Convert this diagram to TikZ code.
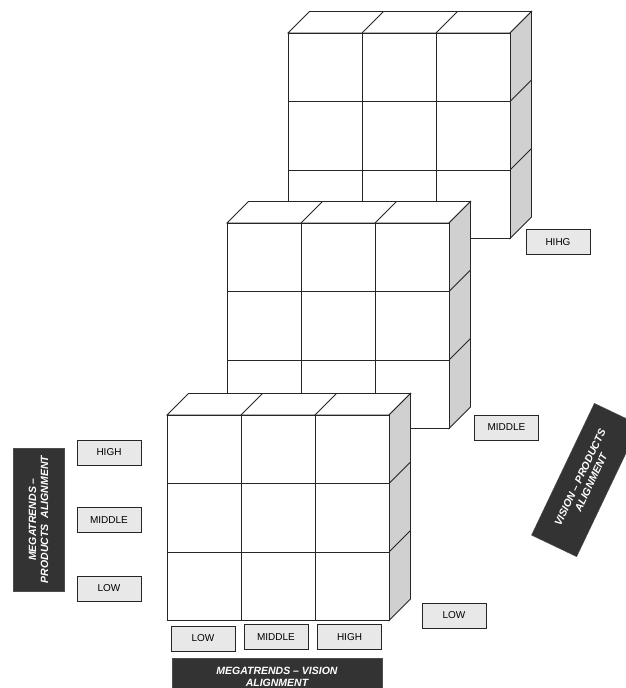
\documentclass[tikz,border=0pt]{standalone}
\usepackage{fontspec}
\setmainfont{Liberation Sans}
\definecolor{edge}{HTML}{262626}
\definecolor{sidegray}{HTML}{D0D0D0}
\definecolor{lblfill}{HTML}{E8E8E8}
\definecolor{darkbox}{HTML}{333333}
\tikzset{
 cubeline/.style={draw=edge, line width=0.85pt, line join=miter},
 lvl/.style={draw=edge, fill=lblfill, line width=0.8pt, minimum width=64pt, minimum height=25pt, inner sep=0pt, font=\fontsize{10}{11}\selectfont, text=black},
 titlebox/.style={fill=darkbox, draw=black!70, text=white, font=\fontsize{10.5}{12}\selectfont\bfseries\itshape, align=center, inner sep=0pt},
}
\newcommand\drawcube[2]{%
 \begin{scope}[shift={(#1,#2)}]
  \path[cubeline, fill=white] (0,0) -- (21.5,-21.5) -- (243.5,-21.5) -- (222,0) -- cycle;
  \draw[cubeline] (74,0) -- (95.5,-21.5) (148,0) -- (169.5,-21.5);
  \path[cubeline, fill=sidegray] (222,0) -- (243.5,-21.5) -- (243.5,184) -- (222,205.5) -- cycle;
  \draw[cubeline] (222,68.5) -- (243.5,47) (222,137) -- (243.5,115.5);
  \path[cubeline, fill=white] (0,0) rectangle (222,205.5);
  \draw[cubeline] (74,0) -- (74,205.5) (148,0) -- (148,205.5) (0,68.5) -- (222,68.5) (0,137) -- (222,137);
 \end{scope}}
\begin{document}
\begin{tikzpicture}[x=1pt,y=-1pt]
\useasboundingbox (0,0) rectangle (626,688);
\drawcube{288}{33}
\drawcube{227}{223}
\drawcube{167}{415}
% level labels
\node[lvl] (hihg) at (558,242) {HIHG};
\node[lvl] (midr) at (506.5,427.5) {MIDDLE};
\node[lvl] (lowr) at (454,615.5) {LOW};
\node[lvl] (lowb) at (203,638.5) {LOW};
\node[lvl] (midb) at (276,637) {MIDDLE};
\node[lvl] (highb) at (349.5,637) {HIGH};
\node[lvl] (highl) at (109,452.5) {HIGH};
\node[lvl] (midl) at (109,520) {MIDDLE};
\node[lvl] (lowl) at (109,588.5) {LOW};
% titles
\node[titlebox, minimum width=210pt, minimum height=38pt] (tb) at (277,677) {MEGATRENDS -- VISION\\ALIGNMENT};
\node[titlebox, rotate=90, minimum width=143pt, minimum height=51pt] (tl) at (38.5,519.5) {MEGATRENDS --\\PRODUCTS\ \ ALIGNMENT};
\node[titlebox, rotate=64.5, minimum width=146pt, minimum height=50pt] (tr) at (585.5,480) {VISION -- PRODUCTS\\ALIGNMENT};
\end{tikzpicture}
\end{document}
